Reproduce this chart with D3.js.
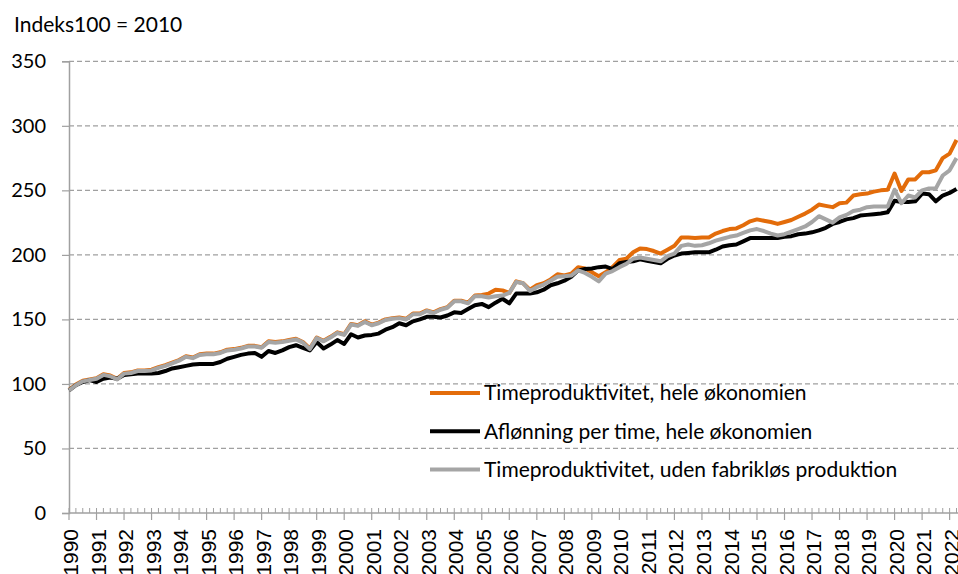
<!DOCTYPE html>
<html>
<head>
<meta charset="utf-8">
<script src="https://cdn.jsdelivr.net/npm/d3@7"></script>
<style>
	body { margin: 0; background: #fff; overflow: hidden; }
	text { font-family: Lato, "Open Sans", sans-serif; fill: #000; }
	.xlab { font-family: "Liberation Sans", Arial, sans-serif; }
</style>
</head>
<body>
<svg id="chart-svg"></svg>
<script>
var CHART_WIDTH = 958;
var CHART_HEIGHT = 574;

// Kvartaler 1990K1 - 2022K2
var startYear = 1990;
var yearLabels = d3.range(1990, 2023).map(String);
var yTicks = [0, 50, 100, 150, 200, 250, 300, 350];

var seriesNames = [
	"Timeproduktivitet, hele økonomien",
	"Aflønning per time, hele økonomien",
	"Timeproduktivitet, uden fabrikløs produktion"
];

var prodHele = [
	95.5, 99.5, 102.5, 103.5, 104.5, 107.5, 106.5, 104, 108.5, 109,
	110.5, 110.5, 111, 113, 114.5, 116.5, 118.5, 121.5, 120.5, 123,
	123.5, 123.5, 124.5, 126.5, 127, 128, 129.5, 129.5, 128.5, 133,
	132.5, 133, 134, 135, 132.5, 127.5, 136, 133.5, 136.5, 140,
	138.5, 146.5, 145.5, 148.5, 146, 147.5, 150, 151, 151.5, 150.5,
	154.5, 154.5, 157, 155.5, 158, 159.5, 164.5, 164.5, 163, 168.5,
	169, 170, 173, 172.5, 170.5, 179.5, 178, 173, 176.5, 178,
	181, 185, 184, 185.5, 190.5, 189.5, 186.5, 183.5, 186.5, 190.5,
	196, 197, 202, 205, 204.5, 203, 201, 204, 207, 213.5,
	213.5, 213, 213.5, 213.5, 216.5, 218.5, 220, 220.5, 223, 226,
	227.5, 226.5, 225.5, 224, 225.5, 227, 229.5, 232, 235, 239,
	238, 237, 240, 240.5, 246, 247, 247.5, 249, 250, 250.5,
	263, 249.5, 258.5, 258.5, 264, 264, 265.5, 275, 278.5, 289
];

var aflonning = [
	95, 99, 101.5, 103, 101.5, 104, 105, 104, 107, 107.5,
	108, 108, 108, 108.5, 110, 112, 113, 114, 115, 115.5,
	115.5, 115.5, 117, 119.5, 121, 122.5, 123.5, 124, 121, 125.5,
	124, 126, 128.5, 130, 128, 126, 132.5, 127.5, 130.5, 134,
	131, 138.5, 136, 137.5, 138, 139, 142, 144, 147, 145.5,
	148.5, 150, 152, 152, 151.5, 153, 155.5, 155, 158, 161,
	162, 159.5, 163, 166, 162.5, 170, 170, 170, 171, 173,
	176.5, 178, 180, 183, 188, 189, 189.5, 190.5, 191, 189,
	193.5, 194.5, 195, 196.5, 195.5, 194.5, 193.5, 197, 199.5, 201,
	201.5, 202, 202, 202, 204, 206.5, 207.5, 208, 210.5, 213,
	213, 213, 213, 213, 214, 214.5, 216, 216.5, 217.5, 219,
	221, 224, 225.5, 227.5, 228.5, 230.5, 231, 231.5, 232, 233,
	242, 241, 241, 241.5, 247.5, 247, 241.5, 246, 248, 251
];

var prodUdenFabr = [
	95, 99, 102, 103, 104, 107, 106, 103.5, 108, 108.5,
	110, 110, 110.5, 112.5, 114, 116, 118, 121, 120, 122.5,
	123, 123, 124, 126, 126.5, 127.5, 129, 129, 128, 132.5,
	132, 132.5, 133.5, 134.5, 132, 127, 135.5, 133, 136, 139.5,
	138, 146, 145, 148, 145.5, 147, 149.5, 150.5, 151, 150,
	154, 154, 156.5, 155, 157.5, 159, 164, 164, 162.5, 168,
	168, 167, 168, 168.5, 170.5, 179, 178, 172, 175, 177,
	180, 183, 183.5, 184, 188, 186, 183, 179.5, 185.5, 187.5,
	190.5, 193, 197, 198, 197, 196, 195, 199, 201, 207,
	208, 207, 207.5, 209, 211, 212.5, 214, 215, 217, 219,
	220, 218.5, 216.5, 215, 216, 218, 220, 222, 225.5, 230,
	227.5, 225, 229, 231, 234, 235, 237, 237.5, 237.5, 237.5,
	250.5, 240, 246, 244.5, 250, 251.5, 251.5, 261.5, 265.5, 275
];

var seriesColors = ["#E36C0A", "#000000", "#A5A5A5"];


function draw_chart() {
	var svg = d3.select("#chart-svg")
		.attr("width", CHART_WIDTH)
		.attr("height", CHART_HEIGHT);

	var margin = { top: 61.3, left: 69, bottom: 513 };
	var nq = prodHele.length;

	var x = d3.scaleLinear()
		.domain([0, nq - 1])
		.range([margin.left, 956.5]);

	var y = d3.scaleLinear()
		.domain([0, 350])
		.range([margin.bottom, margin.top]);

	// titel
	svg.append("text")
		.attr("x", 14)
		.attr("y", 32)
		.style("font-size", "21px")
		.text("Indeks100 = 2010");

	// gitterlinjer
	svg.append("g")
		.selectAll("line")
		.data(yTicks.filter(function(d) { return d > 0; }))
		.enter().append("line")
		.attr("x1", margin.left)
		.attr("x2", CHART_WIDTH)
		.attr("y1", function(d) { return y(d); })
		.attr("y2", function(d) { return y(d); })
		.attr("stroke", "#A0A0A0")
		.attr("stroke-width", 1.2)
		.attr("stroke-dasharray", "5,3");

	// y-akse
	var yAxis = d3.axisLeft(y)
		.tickValues(yTicks)
		.tickSize(7)
		.tickPadding(16);

	var gy = svg.append("g")
		.attr("transform", "translate(" + margin.left + ",0)")
		.call(yAxis);
	gy.select(".domain").attr("stroke", "#A0A0A0").attr("stroke-width", 1.5);
	gy.selectAll(".tick line").attr("stroke", "#A0A0A0").attr("stroke-width", 1.2);
	gy.selectAll(".tick text")
		.style("font-family", "Lato, sans-serif")
		.style("font-size", "20px")
		.attr("fill", "#000");

	// x-akse
	var gx = svg.append("g");
	gx.append("line")
		.attr("x1", margin.left)
		.attr("x2", CHART_WIDTH)
		.attr("y1", y(0))
		.attr("y2", y(0))
		.attr("stroke", "#A0A0A0")
		.attr("stroke-width", 1.5);

	// små kvartals-streger (indad)
	gx.selectAll(".minor")
		.data(d3.range(0, nq))
		.enter().append("line")
		.attr("class", "minor")
		.attr("x1", function(d) { return x(d); })
		.attr("x2", function(d) { return x(d); })
		.attr("y1", y(0) - 5)
		.attr("y2", y(0))
		.attr("stroke", "#A0A0A0")
		.attr("stroke-width", 1);

	// årsstreger (udad)
	gx.selectAll(".major")
		.data(yearLabels)
		.enter().append("line")
		.attr("class", "major")
		.attr("x1", function(d) { return x((+d - startYear) * 4); })
		.attr("x2", function(d) { return x((+d - startYear) * 4); })
		.attr("y1", y(0))
		.attr("y2", y(0) + 7)
		.attr("stroke", "#A0A0A0")
		.attr("stroke-width", 1.2);

	gx.selectAll(".xlab")
		.data(yearLabels)
		.enter().append("text")
		.attr("class", "xlab")
		.attr("transform", function(d) {
			return "translate(" + (x((+d - startYear) * 4) + 1.5) + "," + 529 + ") rotate(-90)";
		})
		.attr("text-anchor", "end")
		.attr("dy", "0.36em")
		.style("font-size", "21px")
		.text(function(d) { return d; });

	// linjer
	var line = d3.line()
		.x(function(d, i) { return x(i); })
		.y(function(d) { return y(d); });

	var allSeries = [prodHele, aflonning, prodUdenFabr];

	svg.append("g")
		.selectAll("path")
		.data(allSeries)
		.enter().append("path")
		.attr("d", line)
		.attr("fill", "none")
		.attr("stroke", function(d, i) { return seriesColors[i]; })
		.attr("stroke-width", 4)
		.attr("stroke-linejoin", "round");

	// signaturforklaring
	var legend = svg.append("g")
		.selectAll("g")
		.data(seriesNames)
		.enter().append("g")
		.attr("transform", function(d, i) { return "translate(430," + (393 + i * 38.3) + ")"; });

	legend.append("line")
		.attr("x1", 0)
		.attr("x2", 50)
		.attr("stroke", function(d, i) { return seriesColors[i]; })
		.attr("stroke-width", 4);

	legend.append("text")
		.attr("x", 54)
		.attr("dy", "0.35em")
		.style("font-size", "21px")
		.text(function(d) { return d; });
}

draw_chart();
</script>
</body>
</html>
